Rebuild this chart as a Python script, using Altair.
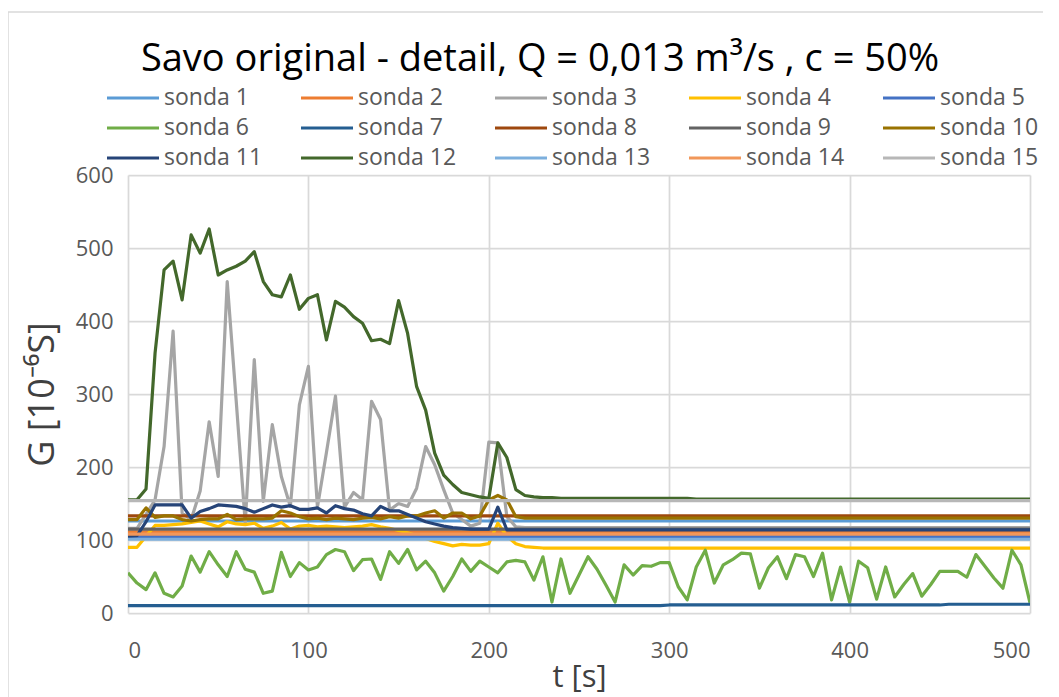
import altair as alt
import pandas as pd

# time axis [s]
t = list(range(0, 501, 5))

names = ["sonda 1", "sonda 2", "sonda 3", "sonda 4", "sonda 5",
         "sonda 6", "sonda 7", "sonda 8", "sonda 9", "sonda 10",
         "sonda 11", "sonda 12", "sonda 13", "sonda 14", "sonda 15"]
colors = ["#5B9BD5", "#ED7D31", "#A5A5A5", "#FFC000", "#4472C4",
          "#70AD47", "#255E91", "#9E480E", "#636363", "#997300",
          "#264478", "#43682B", "#7CAFDD", "#F1975A", "#B7B7B7"]

s1 = [126, 126, 126, 126, 126, 126, 126, 126, 126, 126,
      126, 126, 126, 126, 126, 126, 126, 126, 126, 126,
      126, 126, 126, 126, 126, 126, 126, 126, 126, 126,
      126, 126, 126, 126, 126, 126, 126, 126, 126, 126,
      126, 126, 126, 126, 126, 126, 126, 126, 126, 126,
      126, 126, 126, 126, 126, 126, 126, 126, 126, 126,
      126, 126, 126, 126, 126, 126, 126, 126, 126, 126,
      126, 126, 126, 126, 126, 126, 126, 126, 126, 126,
      126, 126, 126, 126, 126, 126, 126, 126, 126, 126,
      126, 126, 126, 126, 126, 126, 126, 126, 126, 126,
      126]
s2 = [111, 111, 111, 111, 111, 111, 111, 111, 111, 111,
      111, 111, 111, 111, 111, 111, 111, 111, 111, 111,
      111, 111, 111, 111, 111, 111, 111, 111, 111, 111,
      111, 111, 111, 111, 111, 111, 111, 111, 111, 111,
      111, 111, 111, 111, 111, 111, 111, 111, 111, 111,
      111, 111, 111, 111, 111, 111, 111, 111, 111, 111,
      111, 111, 111, 111, 111, 111, 111, 111, 111, 111,
      111, 111, 111, 111, 111, 111, 111, 111, 111, 111,
      111, 111, 111, 111, 111, 111, 111, 111, 111, 111,
      111, 111, 111, 111, 111, 111, 111, 111, 111, 111,
      111]
s3 = [116, 116, 135, 155, 228, 386, 137, 128, 167, 262,
      187, 454, 290, 123, 347, 153, 258, 187, 146, 285,
      338, 145, 220, 297, 145, 165, 155, 290, 265, 141,
      150, 146, 171, 228, 203, 169, 137, 128, 119, 123,
      234, 233, 132, 118, 117, 117, 117, 117, 117, 117,
      117, 117, 117, 117, 117, 117, 117, 117, 117, 117,
      117, 117, 117, 117, 117, 117, 117, 117, 117, 117,
      117, 117, 117, 117, 117, 117, 117, 117, 117, 117,
      117, 117, 117, 117, 117, 117, 117, 117, 117, 117,
      117, 117, 117, 117, 117, 117, 117, 117, 117, 117,
      117]
s4 = [90, 90, 105, 120, 120, 121, 122, 124, 126, 122,
      118, 125, 122, 121, 123, 116, 119, 124, 115, 119,
      120, 118, 119, 118, 117, 118, 119, 121, 118, 116,
      113, 110, 106, 102, 98, 95, 92, 94, 93, 93,
      95, 123, 105, 95, 91, 90, 89, 89, 89, 89,
      89, 89, 89, 89, 89, 89, 89, 89, 89, 89,
      89, 89, 89, 89, 89, 89, 89, 89, 89, 89,
      89, 89, 89, 89, 89, 89, 89, 89, 89, 89,
      89, 89, 89, 89, 89, 89, 89, 89, 89, 89,
      89, 89, 89, 89, 89, 89, 89, 89, 89, 89,
      89]
s5 = [105, 105, 105, 105, 105, 105, 105, 105, 105, 105,
      105, 105, 105, 105, 105, 105, 105, 105, 105, 105,
      105, 105, 105, 105, 105, 105, 105, 105, 105, 105,
      105, 105, 105, 105, 105, 105, 105, 105, 105, 105,
      105, 105, 105, 105, 105, 105, 105, 105, 105, 105,
      105, 105, 105, 105, 105, 105, 105, 105, 105, 105,
      105, 105, 105, 105, 105, 105, 105, 105, 105, 105,
      105, 105, 105, 105, 105, 105, 105, 105, 105, 105,
      105, 105, 105, 105, 105, 105, 105, 105, 105, 105,
      105, 105, 105, 105, 105, 105, 105, 105, 105, 105,
      105]
s6 = [55, 41, 32, 55, 27, 22, 37, 78, 56, 84,
      66, 50, 84, 60, 56, 27, 30, 83, 50, 69,
      59, 63, 80, 87, 84, 58, 73, 74, 46, 84,
      68, 87, 59, 71, 55, 30, 50, 74, 57, 71,
      63, 55, 70, 72, 70, 45, 77, 15, 74, 27,
      52, 77, 60, 38, 15, 66, 52, 65, 64, 69,
      69, 36, 18, 63, 86, 41, 66, 73, 82, 81,
      34, 62, 77, 47, 80, 77, 50, 82, 18, 63,
      15, 71, 62, 19, 63, 22, 39, 54, 23, 39,
      57, 57, 57, 49, 80, 64, 48, 34, 86, 66,
      14]
s7 = [10, 10, 10, 10, 10, 10, 10, 10, 10, 10,
      10, 10, 10, 10, 10, 10, 10, 10, 10, 10,
      10, 10, 10, 10, 10, 10, 10, 10, 10, 10,
      10, 10, 10, 10, 10, 10, 10, 10, 10, 10,
      10, 10, 10, 10, 10, 10, 10, 10, 10, 10,
      10, 10, 10, 10, 10, 10, 10, 10, 10, 10,
      11, 11, 11, 11, 11, 11, 11, 11, 11, 11,
      11, 11, 11, 11, 11, 11, 11, 11, 11, 11,
      11, 11, 11, 11, 11, 11, 11, 11, 11, 11,
      11, 12, 12, 12, 12, 12, 12, 12, 12, 12,
      12]
s8 = [133, 133, 133, 133, 133, 133, 133, 133, 133, 133,
      133, 133, 133, 133, 133, 133, 133, 133, 133, 133,
      133, 133, 133, 133, 133, 133, 133, 133, 133, 133,
      133, 133, 133, 133, 133, 133, 133, 133, 133, 133,
      133, 133, 133, 133, 133, 133, 133, 133, 133, 133,
      133, 133, 133, 133, 133, 133, 133, 133, 133, 133,
      133, 133, 133, 133, 133, 133, 133, 133, 133, 133,
      133, 133, 133, 133, 133, 133, 133, 133, 133, 133,
      133, 133, 133, 133, 133, 133, 133, 133, 133, 133,
      133, 133, 133, 133, 133, 133, 133, 133, 133, 133,
      133]
s9 = [115, 115, 115, 115, 115, 115, 115, 115, 115, 115,
      115, 115, 115, 115, 115, 115, 115, 115, 115, 115,
      115, 115, 115, 115, 115, 115, 115, 115, 115, 115,
      115, 115, 115, 115, 115, 115, 115, 115, 115, 115,
      115, 115, 115, 115, 115, 115, 115, 115, 115, 115,
      115, 115, 115, 115, 115, 115, 115, 115, 115, 115,
      115, 115, 115, 115, 115, 115, 115, 115, 115, 115,
      115, 115, 115, 115, 115, 115, 115, 115, 115, 115,
      115, 115, 115, 115, 115, 115, 115, 115, 115, 115,
      115, 115, 115, 115, 115, 115, 115, 115, 115, 115,
      115]
s10 = [128, 128, 144, 131, 133, 133, 128, 126, 128, 129,
       129, 135, 128, 129, 129, 129, 130, 140, 137, 132,
       129, 130, 128, 130, 129, 128, 130, 131, 129, 132,
       130, 133, 133, 137, 140, 130, 137, 137, 129, 133,
       155, 161, 155, 132, 130, 130, 130, 130, 130, 130,
       130, 130, 130, 130, 130, 130, 130, 130, 130, 130,
       130, 130, 130, 130, 130, 130, 130, 130, 130, 130,
       130, 130, 130, 130, 130, 130, 130, 130, 130, 130,
       130, 130, 130, 130, 130, 130, 130, 130, 130, 130,
       130, 130, 130, 130, 130, 130, 130, 130, 130, 130,
       130]
s11 = [105, 106, 125, 148, 148, 148, 148, 130, 139, 143,
       148, 147, 146, 143, 138, 143, 148, 145, 147, 142,
       142, 144, 137, 147, 143, 141, 136, 133, 146, 140,
       140, 135, 130, 125, 122, 119, 117, 116, 115, 115,
       115, 145, 114, 114, 114, 114, 114, 114, 114, 114,
       114, 114, 114, 114, 114, 114, 114, 114, 114, 114,
       114, 114, 114, 114, 114, 114, 114, 114, 114, 114,
       114, 114, 114, 114, 114, 114, 114, 114, 114, 114,
       114, 114, 114, 114, 114, 114, 114, 114, 114, 114,
       114, 114, 114, 114, 114, 114, 114, 114, 114, 114,
       114]
s12 = [155, 155, 170, 356, 470, 482, 429, 518, 493, 526,
       463, 470, 475, 482, 495, 454, 436, 433, 463, 416,
       431, 436, 374, 427, 419, 406, 397, 373, 375, 369,
       428, 383, 310, 278, 219, 189, 176, 165, 162, 159,
       157, 233, 213, 169, 161, 159, 158, 158, 157, 157,
       157, 157, 157, 157, 157, 157, 157, 157, 157, 157,
       157, 157, 157, 156, 156, 156, 156, 156, 156, 156,
       156, 156, 156, 156, 156, 156, 156, 156, 156, 156,
       156, 156, 156, 156, 156, 156, 156, 156, 156, 156,
       156, 156, 156, 156, 156, 156, 156, 156, 156, 156,
       156]
s13 = [101, 101, 101, 101, 101, 101, 101, 101, 101, 101,
       101, 101, 101, 101, 101, 101, 101, 101, 101, 101,
       101, 101, 101, 101, 101, 101, 101, 101, 101, 101,
       101, 101, 101, 101, 101, 101, 101, 101, 101, 101,
       101, 101, 101, 101, 101, 101, 101, 101, 101, 101,
       101, 101, 101, 101, 101, 101, 101, 101, 101, 101,
       101, 101, 101, 101, 101, 101, 101, 101, 101, 101,
       101, 101, 101, 101, 101, 101, 101, 101, 101, 101,
       101, 101, 101, 101, 101, 101, 101, 101, 101, 101,
       101, 101, 101, 101, 101, 101, 101, 101, 101, 101,
       101]
s14 = [108, 108, 108, 108, 108, 108, 108, 108, 108, 108,
       108, 108, 108, 108, 108, 108, 108, 108, 108, 108,
       108, 108, 108, 108, 108, 108, 108, 108, 108, 108,
       108, 108, 108, 108, 108, 108, 108, 108, 108, 108,
       108, 108, 108, 108, 108, 108, 108, 108, 108, 108,
       108, 108, 108, 108, 108, 108, 108, 108, 108, 108,
       108, 108, 108, 108, 108, 108, 108, 108, 108, 108,
       108, 108, 108, 108, 108, 108, 108, 108, 108, 108,
       108, 108, 108, 108, 108, 108, 108, 108, 108, 108,
       108, 108, 108, 108, 108, 108, 108, 108, 108, 108,
       108]
s15 = [154, 154, 154, 154, 154, 154, 154, 154, 154, 154,
       154, 154, 154, 154, 154, 154, 154, 154, 154, 154,
       154, 154, 154, 154, 154, 154, 154, 154, 154, 154,
       154, 154, 154, 154, 154, 154, 154, 154, 154, 154,
       154, 154, 154, 154, 154, 154, 154, 154, 154, 154,
       154, 154, 154, 154, 154, 154, 154, 154, 154, 154,
       154, 154, 154, 154, 154, 154, 154, 154, 154, 154,
       154, 154, 154, 154, 154, 154, 154, 154, 154, 154,
       154, 154, 154, 154, 154, 154, 154, 154, 154, 154,
       154, 154, 154, 154, 154, 154, 154, 154, 154, 154,
       154]

series = [s1, s2, s3, s4, s5, s6, s7, s8, s9, s10, s11, s12, s13, s14, s15]

rows = []
for k, (name, vals) in enumerate(zip(names, series)):
    for ti, v in zip(t, vals):
        rows.append({"t": ti, "G": v, "sonda": name, "k": k})
df = pd.DataFrame(rows)

FONT = "Open Sans"
GRAY = "#595959"

lines = alt.Chart(df).mark_line(strokeWidth=3.2, strokeJoin="round", clip=True).encode(
    x=alt.X("t:Q",
            scale=alt.Scale(domain=[0, 500], nice=False),
            axis=alt.Axis(values=[0, 100, 200, 300, 400, 500], title="t [s]",
                          labelFontSize=22, labelColor=GRAY, labelFont=FONT,
                          labelPadding=27, ticks=False, domain=False,
                          grid=True, gridColor="#D9D9D9", gridWidth=1.75,
                          titleFont=FONT, titleFontSize=31, titleColor="#404040",
                          titleFontWeight="normal", titleBaseline="middle",
                          titleY=64)),
    y=alt.Y("G:Q",
            scale=alt.Scale(domain=[0, 600], nice=False),
            axis=alt.Axis(values=[0, 100, 200, 300, 400, 500, 600], title="G [10⁻⁶S]",
                          labelFontSize=22, labelColor=GRAY, labelFont=FONT,
                          labelPadding=15, ticks=False, domain=False,
                          grid=True, gridColor="#D9D9D9", gridWidth=1.75,
                          titleFont=FONT, titleFontSize=36, titleColor="#404040",
                          titleFontWeight="normal", titleBaseline="middle",
                          titleX=-86, titleY=219, titleAngle=-90)),
    color=alt.Color("sonda:N",
                    scale=alt.Scale(domain=names, range=colors),
                    legend=alt.Legend(title=None, orient="none", legendX=-23, legendY=-89,
                                      direction="horizontal", columns=5,
                                      symbolType="stroke", symbolSize=2704,
                                      symbolStrokeWidth=3.2, clipHeight=24, rowPadding=6,
                                      columnPadding=36, labelOffset=3, padding=0,
                                      labelFontSize=23, labelFont=FONT, labelColor=GRAY)),
    order=alt.Order("t:Q"),
)

# light frame of the chart area (top and left edges are visible in the reference)
frame = alt.Chart(pd.DataFrame({"f": [0]})).mark_rect(
    fill=None, stroke="#D9D9D9", strokeWidth=1.5, clip=False
).encode(
    x=alt.value(-120), x2=alt.value(940), y=alt.value(-163), y2=alt.value(540)
)

chart = alt.layer(frame, lines).properties(
    width=902, height=438,
    title=alt.TitleParams(text="Savo original - detail, Q = 0,013 m³/s , c = 50%",
                          font=FONT, fontSize=38, fontWeight="normal", color="#000000",
                          anchor="middle", dx=-39, offset=-68),
    autosize=alt.AutoSizeParams(type="none"),
    padding={"left": 120, "top": 167, "right": 13, "bottom": 84},
).configure_view(stroke=None)

chart.save("out.html", embed_options={"renderer": "svg", "actions": False})
